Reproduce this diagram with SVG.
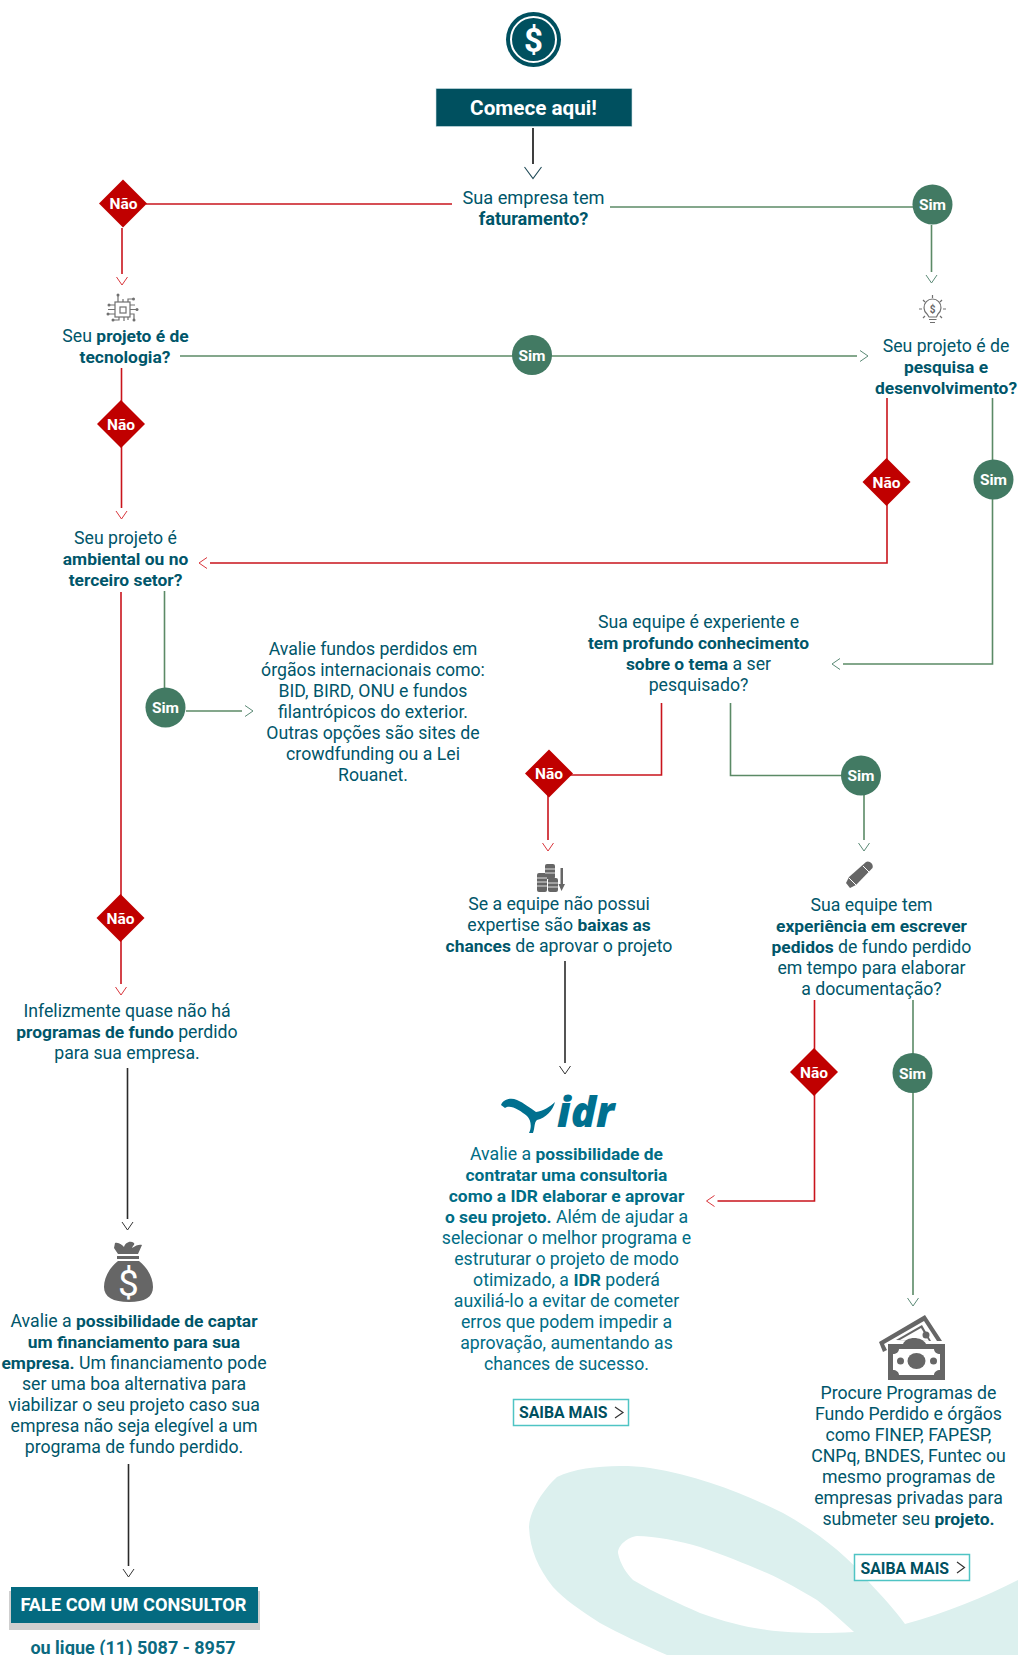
<svg xmlns="http://www.w3.org/2000/svg" width="1018" height="1655" viewBox="0 0 1018 1655">
<style>
text{font-family:Roboto,"Liberation Sans",sans-serif}
.t{font-size:17.7px;fill:#00566a;text-anchor:middle}
.l{fill:#006d85}
.t tspan.b{font-weight:700;font-size:17.4px}
.c{fill:none;stroke-width:1.6}
.r{stroke:#c9141c}
.g{stroke:#5b8a66}
.d{stroke:#2a2a2a;stroke-width:1.6}
.dia{fill:#c00000}
.cir{fill:#427a63}
.lab{font-size:15.5px;font-weight:700;fill:#fff;text-anchor:middle}
.ic{fill:none;stroke:#707070;stroke-width:1.2}
.dot{fill:#707070}
.fic{fill:#666}
.btn{fill:#fff;stroke:#4fc4c4;stroke-width:1.5}
.btnt{font-size:15.8px;font-weight:700;fill:#00505f}
.ch{fill:none;stroke:#333;stroke-width:1.2}
</style>
<defs>
<marker id="aR" markerUnits="userSpaceOnUse" markerWidth="24" markerHeight="24" refX="-3" refY="12" orient="auto" viewBox="-3 0 24 24"><path d="M0 6.5L8 12L0 17.5" fill="none" stroke="#d9363c" stroke-width="1"/></marker>
<marker id="aG" markerUnits="userSpaceOnUse" markerWidth="24" markerHeight="24" refX="-3" refY="12" orient="auto" viewBox="-3 0 24 24"><path d="M0 6.5L8 12L0 17.5" fill="none" stroke="#5b8a76" stroke-width="1"/></marker>
<marker id="aD" markerUnits="userSpaceOnUse" markerWidth="24" markerHeight="24" refX="-3" refY="12" orient="auto" viewBox="-3 0 24 24"><path d="M0 6.5L8 12L0 17.5" fill="none" stroke="#333" stroke-width="1"/></marker>
<marker id="aL" markerUnits="userSpaceOnUse" markerWidth="30" markerHeight="30" refX="-3" refY="15" orient="auto" viewBox="-3 0 30 30"><path d="M0 6.5L11.5 15L0 23.500" fill="none" stroke="#1f4a57" stroke-width="1.1"/></marker>
<polygon id="dm" points="0,-24 24,0 0,24 -24,0"/>
</defs>
<g id="bg"><path fill="#dcf0ee" fill-rule="evenodd" d="M557 1477C580 1466 620 1464 650 1468C700 1476 745 1494 783 1513C815 1531 845 1553 867 1580C882 1596 895 1610 905 1624C945 1613 985 1597 1018 1580V1655H667C640 1643 620 1634 600 1623C580 1610 565 1600 553 1587C538 1568 530 1550 529 1527C530 1510 543 1490 557 1477ZM637 1536C628 1537 618 1545 618 1553C620 1564 627 1574 633 1580C655 1593 680 1604 700 1613C725 1622 745 1627 767 1630C790 1633 820 1634 854 1632C843 1622 830 1610 817 1600C800 1590 785 1581 767 1573C745 1564 725 1555 700 1547C680 1541 655 1536 637 1536Z"/></g>

<g id="connectors">
<path class="c d" style="stroke-width:1.8" d="M533 128V164" marker-end="url(#aL)"/>
<path class="c r" d="M146 204H452"/>
<path class="c r" d="M122 228V274" marker-end="url(#aR)"/>
<path class="c g" d="M610 207H913"/>
<path class="c g" d="M931.500 225V272" marker-end="url(#aG)"/>
<path class="c g" d="M180 356H857" marker-end="url(#aG)"/>
<path class="c r" d="M121.500 368V508" marker-end="url(#aR)"/>
<path class="c r" d="M887 398V563H210" marker-end="url(#aR)"/>
<path class="c g" d="M992.500 398V664H843" marker-end="url(#aG)"/>
<path class="c r" d="M121 592V984" marker-end="url(#aR)"/>
<path class="c g" d="M164.500 591V690"/>
<path class="c g" d="M186 711H242" marker-end="url(#aG)"/>
<path class="c r" d="M661.500 703V775H548"/>
<path class="c r" d="M548 775V840" marker-end="url(#aR)"/>
<path class="c g" d="M730.500 703V775.500H861"/>
<path class="c g" d="M864 775V840" marker-end="url(#aG)"/>
<path class="c d" d="M565 961V1063" marker-end="url(#aD)"/>
<path class="c r" d="M814.500 1000V1201H717.500" marker-end="url(#aR)"/>
<path class="c g" d="M913 1000V1295" marker-end="url(#aG)"/>
<path class="c d" d="M127.500 1068V1219" marker-end="url(#aD)"/>
<path class="c d" d="M128.500 1464V1566" marker-end="url(#aD)"/>
</g>

<g id="coin">
<circle cx="533.500" cy="39.500" r="27.500" fill="#00505f"/>
<circle cx="533.500" cy="39.500" r="22.500" fill="none" stroke="#fff" stroke-width="2"/>
<text x="533.500" y="51.500" font-size="33" font-weight="700" fill="#fff" text-anchor="middle">$</text>
</g>
<g id="start">
<rect x="436" y="88.500" width="196" height="38" fill="#00505f" stroke="#cfe2e6" stroke-width="0.6"/>
<text x="533.500" y="115" font-size="20.700" font-weight="700" fill="#fff" text-anchor="middle">Comece aqui!</text>
</g>
<g id="q-faturamento"><text class="t" style="font-size:18.200px"><tspan x="533.500" y="203.500">Sua empresa tem</tspan><tspan class="b" style="font-size:18.200px" x="533.500" y="225">faturamento?</tspan></text></g>
<g id="nao-1"><use href="#dm" class="dia" x="123" y="203.500"/><text class="lab" x="123.500" y="209">Não</text></g>
<g id="sim-1"><circle class="cir" cx="932.500" cy="204.500" r="20"/><text class="lab" x="932.500" y="210">Sim</text></g>

<g id="q-tecnologia">
<g class="ic">
<rect x="115" y="302" width="15" height="15"/><rect x="120" y="307" width="6" height="6"/>
<path d="M118 302V295M123 302V299M128 302V299H133M115 305H109M115 309.500H108M115 314H108M130 305H135M130 309.500H137M130 314H134V320M119 317V320H113M124 317V321M128 317V320"/>
</g>
<g class="dot"><circle cx="118" cy="295" r="1.500"/><circle cx="133.500" cy="299" r="1.500"/><circle cx="109" cy="305" r="1.500"/><circle cx="108" cy="314" r="1.500"/><circle cx="137" cy="309.500" r="1.500"/><circle cx="134" cy="320" r="1.500"/><circle cx="113" cy="320" r="1.500"/></g>
<text class="t"><tspan x="125.500" y="341.500">Seu <tspan class="b">projeto é de</tspan></tspan><tspan class="b" x="125" y="363">tecnologia?</tspan></text>
</g>
<g id="sim-2"><circle class="cir" cx="532" cy="355" r="20"/><text class="lab" x="532" y="360.500">Sim</text></g>
<g id="q-pd">
<g class="ic">
<path d="M927 314A8.500 8.500 0 1 1 938 314L936.500 317H929Z"/>
<path d="M929 319.500H936.500M930 322.500H935M919 309H922M943 309H946M923 300L925 302M942 300L940 302M932.500 295V298M923 318L925 316M942 318L940 316"/>
</g>
<text x="932.700" y="312.500" font-size="10" font-weight="700" fill="#666" text-anchor="middle">$</text>
<text class="t"><tspan x="946" y="352">Seu projeto é de</tspan><tspan class="b" x="946" y="373">pesquisa e</tspan><tspan class="b" x="946" y="394">desenvolvimento?</tspan></text>
</g>
<g id="nao-2"><use href="#dm" class="dia" x="121" y="424"/><text class="lab" x="121" y="429.500">Não</text></g>
<g id="nao-3"><use href="#dm" class="dia" x="886.500" y="482"/><text class="lab" x="886.500" y="487.500">Não</text></g>
<g id="sim-3"><circle class="cir" cx="993.500" cy="479.500" r="20"/><text class="lab" x="993.500" y="485">Sim</text></g>
<g id="q-ambiental"><text class="t"><tspan x="125.500" y="543.500">Seu projeto é</tspan><tspan class="b" x="125.500" y="564.500">ambiental ou no</tspan><tspan class="b" x="125.500" y="585.500">terceiro setor?</tspan></text></g>
<g id="sim-4"><circle class="cir" cx="165.500" cy="707.500" r="20"/><text class="lab" x="165.500" y="713">Sim</text></g>
<g id="r-internacionais"><text class="t"><tspan x="373" y="655">Avalie fundos perdidos em</tspan><tspan x="373" y="676">órgãos internacionais como:</tspan><tspan x="373" y="697">BID, BIRD, ONU e fundos</tspan><tspan x="373" y="718">filantrópicos do exterior.</tspan><tspan x="373" y="739">Outras opções são sites de</tspan><tspan x="373" y="760">crowdfunding ou a Lei</tspan><tspan x="373" y="781">Rouanet.</tspan></text></g>
<g id="q-equipe"><text class="t"><tspan x="698.500" y="628">Sua equipe é experiente e</tspan><tspan class="b" x="698.500" y="649">tem profundo conhecimento</tspan><tspan x="698.500" y="670"><tspan class="b">sobre o tema</tspan> a ser</tspan><tspan x="698.500" y="691">pesquisado?</tspan></text></g>
<g id="nao-4"><use href="#dm" class="dia" x="549" y="773.500"/><text class="lab" x="549" y="779">Não</text></g>
<g id="sim-5"><circle class="cir" cx="861" cy="775.500" r="20"/><text class="lab" x="861" y="781">Sim</text></g>
<g id="r-baixas">
<g class="fic">
<rect x="537" y="873" width="10" height="19" rx="2"/><rect x="545" y="864" width="10" height="15" rx="2"/><rect x="548" y="878" width="10" height="14" rx="2"/>
<path d="M563 868V884H565L561.500 891L558.500 884H560.500V868Z"/>
</g>
<path d="M537 878H547M537 882H547M537 886H547M545 869H555M545 873H555M548 883H558M548 887H558" stroke="#fff" stroke-width="0.8" fill="none"/>
<text class="t"><tspan x="559" y="910">Se a equipe não possui</tspan><tspan x="559" y="931">expertise são <tspan class="b">baixas as</tspan></tspan><tspan x="559" y="952"><tspan class="b">chances</tspan> de aprovar o projeto</tspan></text>
</g>
<g id="q-escrever">
<path class="fic" d="M846 883L849 877L866 862C869 860 874 864 872.500 868L856 885L850 888Z"/>
<path d="M849 878L856 885M863 866L869 872" stroke="#fff" stroke-width="1" fill="none"/>
<text class="t"><tspan x="871.500" y="911">Sua equipe tem</tspan><tspan class="b" x="871.500" y="932">experiência em escrever</tspan><tspan x="871.500" y="953"><tspan class="b">pedidos</tspan> de fundo perdido</tspan><tspan x="871.500" y="974">em tempo para elaborar</tspan><tspan x="871.500" y="995">a documentação?</tspan></text>
</g>
<g id="nao-5"><use href="#dm" class="dia" x="120.500" y="918"/><text class="lab" x="120.500" y="923.500">Não</text></g>
<g id="r-infelizmente"><text class="t"><tspan x="127" y="1016.500">Infelizmente quase não há</tspan><tspan x="127" y="1037.500"><tspan class="b">programas de fundo</tspan> perdido</tspan><tspan x="127" y="1058.500">para sua empresa.</tspan></text></g>
<g id="nao-6"><use href="#dm" class="dia" x="814" y="1072"/><text class="lab" x="814" y="1077.500">Não</text></g>
<g id="sim-6"><circle class="cir" cx="912.500" cy="1073" r="20"/><text class="lab" x="912.500" y="1078.500">Sim</text></g>
<g id="r-idr">
<path d="M501 1105C503 1100 510 1097 517 1100C524 1103 530 1108 536 1112C543 1111 550 1107 555 1102C553 1110 546 1118 537 1120C534 1122 535 1128 533 1133L529 1133C532 1127 531 1120 527 1116C520 1110 510 1104 505 1108Z" fill="#00708f"/>
<text x="557" y="1127" style="font-family:'Open Sans','Liberation Sans',sans-serif" font-size="42" font-weight="800" font-style="italic" fill="#00708f">idr</text>
<text class="t l"><tspan x="566.500" y="1159.500">Avalie a <tspan class="b">possibilidade de</tspan></tspan><tspan class="b" x="566.500" y="1180.500">contratar uma consultoria</tspan><tspan class="b" x="566.500" y="1201.500">como a IDR elaborar e aprovar</tspan><tspan x="566.500" y="1222.500"><tspan class="b">o seu projeto.</tspan> Além de ajudar a</tspan><tspan x="566.500" y="1243.500">selecionar o melhor programa e</tspan><tspan x="566.500" y="1264.500">estruturar o projeto de modo</tspan><tspan x="566.500" y="1285.500">otimizado, a <tspan class="b">IDR</tspan> poderá</tspan><tspan x="566.500" y="1306.500">auxiliá-lo a evitar de cometer</tspan><tspan x="566.500" y="1327.500">erros que podem impedir a</tspan><tspan x="566.500" y="1348.500">aprovação, aumentando as</tspan><tspan x="566.500" y="1369.500">chances de sucesso.</tspan></text>
</g>
<g id="btn-1"><rect class="btn" x="513.500" y="1399.500" width="115" height="26"/><text class="btnt" x="519" y="1418">SAIBA MAIS</text><path class="ch" d="M615 1407L623 1412.500L615 1418"/></g>
<g id="r-captar">
<path class="fic" d="M115 1243C119 1242 122 1245 124 1247C125 1243 130 1240 134 1243C135 1245 133 1245 132 1248C136 1245 140 1244 142 1245L138 1254H118L114 1248ZM117 1256H139V1259H117ZM118 1261H139C148 1268 153 1278 153 1287C153 1297 145 1302 129 1302C113 1302 104 1297 104 1287C104 1278 109 1268 118 1261Z"/>
<text x="128.500" y="1296" font-size="37" fill="#fff" text-anchor="middle">$</text>
<text class="t"><tspan x="134" y="1327">Avalie a <tspan class="b">possibilidade de captar</tspan></tspan><tspan class="b" x="134" y="1348">um financiamento para sua</tspan><tspan x="134" y="1369"><tspan class="b">empresa.</tspan> Um financiamento pode</tspan><tspan x="134" y="1390">ser uma boa alternativa para</tspan><tspan x="134" y="1411">viabilizar o seu projeto caso sua</tspan><tspan x="134" y="1432">empresa não seja elegível a um</tspan><tspan x="134" y="1453">programa de fundo perdido.</tspan></text>
</g>
<g id="r-fundo">
<path class="fic" d="M879 1342L925 1315L942 1341H937L924 1321L884 1344L887 1350L883 1352Z"/>
<path class="fic" d="M896 1340L922 1325L931 1341Z"/>
<path fill="#fff" d="M900 1340L921 1328L929 1341Z"/>
<circle cx="926" cy="1335" r="3.500" class="fic"/>
<path class="fic" d="M903 1344C906 1336 922 1336 926 1344Z"/>
<rect class="fic" x="888" y="1344" width="57" height="36"/>
<rect x="893" y="1349" width="47" height="26" fill="#fff"/>
<path class="fic" d="M893 1349H899C899 1352 896 1354 893 1354ZM934 1349H940V1354C937 1354 934 1352 934 1349ZM893 1370C896 1370 899 1372 899 1375H893ZM940 1370V1375H934C934 1372 937 1370 940 1370Z"/>
<ellipse class="fic" cx="916.500" cy="1361" rx="9" ry="8"/>
<circle class="fic" cx="900.500" cy="1361" r="3.500"/><circle class="fic" cx="933.500" cy="1361" r="3.500"/>
<text class="t"><tspan x="908.500" y="1398.500">Procure Programas de</tspan><tspan x="908.500" y="1419.500">Fundo Perdido e órgãos</tspan><tspan x="908.500" y="1440.500">como FINEP, FAPESP,</tspan><tspan x="908.500" y="1461.500">CNPq, BNDES, Funtec ou</tspan><tspan x="908.500" y="1482.500">mesmo programas de</tspan><tspan x="908.500" y="1503.500">empresas privadas para</tspan><tspan x="908.500" y="1524.500">submeter seu <tspan class="b">projeto.</tspan></tspan></text>
</g>
<g id="btn-2"><rect class="btn" x="854.500" y="1554.500" width="115" height="26"/><text class="btnt" x="860.500" y="1574">SAIBA MAIS</text><path class="ch" d="M957 1562L964.500 1567.500L957 1573"/></g>
<g id="cta">
<rect x="9" y="1591" width="251" height="39" fill="#cfcfcf"/>
<rect x="11" y="1587" width="247" height="36" fill="#046a80"/>
<text x="133.500" y="1611" font-size="18.200" font-weight="700" fill="#fff" text-anchor="middle">FALE COM UM CONSULTOR</text>
<text x="133" y="1654" font-size="18" font-weight="700" fill="#0a6a80" text-anchor="middle">ou ligue (11) 5087 - 8957</text>
</g>
</svg>
